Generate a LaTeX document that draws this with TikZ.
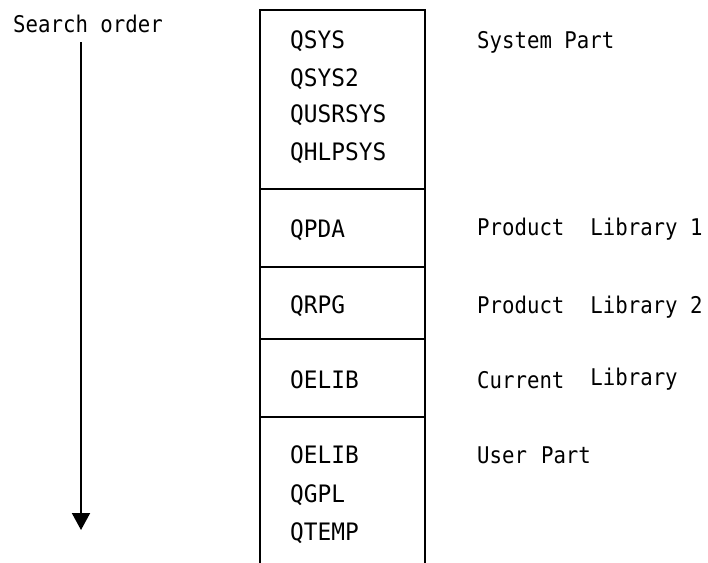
\documentclass[tikz,border=0pt]{standalone}
\usepackage{fontspec}
\newfontfamily\pixfont{DejaVu Sans Mono}
\newfontfamily\pixfontb[FakeStretch=0.95]{DejaVu Sans Mono}
\newfontfamily\pixfontc[FakeStretch=0.9]{DejaVu Sans Mono}
\usetikzlibrary{arrows.meta}
\begin{document}
\begin{tikzpicture}[x=1pt,y=-1pt,
  sect/.style={draw, line width=1.6pt, minimum width=165pt, inner sep=0pt},
  lib/.style={anchor=base west, inner sep=0pt, font=\pixfontb\fontsize{24}{26}\selectfont},
  lab/.style={anchor=base west, inner sep=0pt, font=\pixfontc\fontsize{23}{26}\selectfont}]
\useasboundingbox (0,0) rectangle (708,562);
% stacked sections of the library list
\node[sect, minimum height=179pt] (sys) at (342.5,99.5) {};
\node[sect, minimum height=78pt] (pl1) at (342.5,228) {};
\node[sect, minimum height=72pt] (pl2) at (342.5,303) {};
\node[sect, minimum height=78pt] (cur) at (342.5,378) {};
\node[sect, minimum height=160pt] (usr) at (342.5,497) {};
% library names
\node[lib] (qsys) at (290,48) {QSYS};
\node[lib] (qsys2) at (290,86) {QSYS2};
\node[lib] (qusrsys) at (290,122) {QUSRSYS};
\node[lib] (qhlpsys) at (290,160) {QHLPSYS};
\node[lib] (qpda) at (290,237) {QPDA};
\node[lib] (qrpg) at (290,313) {QRPG};
\node[lib] (oelib1) at (290,388) {OELIB};
\node[lib] (oelib2) at (290,463) {OELIB};
\node[lib] (qgpl) at (290,502) {QGPL};
\node[lib] (qtemp) at (290,540) {QTEMP};
% labels on the right
\node[lab] (lsys) at (477,48) {System Part};
\node[lab] (lpl1) at (477,235) {Product\hspace{26pt}Library 1};
\node[lab] (lpl2) at (477,313) {Product\hspace{26pt}Library 2};
\node[lab] (lcur) at (477,388) {Current\hspace{26pt}\raisebox{3pt}{Library}};
\node[lab] (lusr) at (477,463) {User\hspace{14pt}Part};
% search order arrow
\node[lab] (so) at (13,32) {Search order};
\coordinate (atop) at (81,42);
\coordinate (abot) at (81,530);
\draw[line width=2pt, -{Triangle[width=18pt,length=17pt]}] (atop) -- (abot);
\end{tikzpicture}
\end{document}
